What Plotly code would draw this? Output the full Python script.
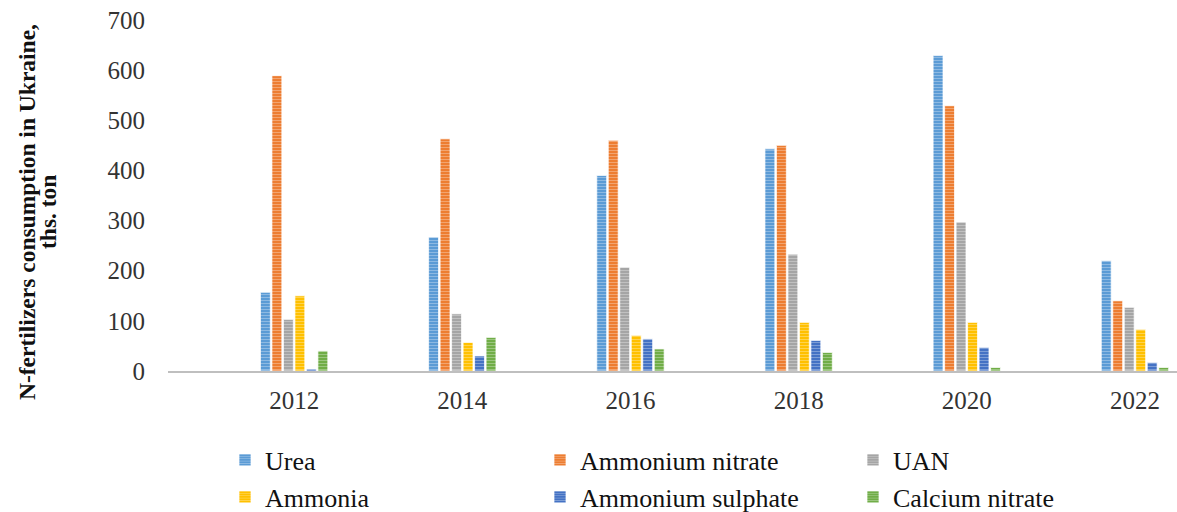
import plotly.graph_objects as go

# ---- data ----
years = [2012, 2014, 2016, 2018, 2020, 2022]
year_labels = ["2012", "2014", "2016", "2018", "2020", "2022"]
urea = [157, 267, 390, 443, 629, 220]
ammonium_nitrate = [589, 463, 460, 450, 529, 140]
uan = [103, 114, 207, 233, 297, 127]
ammonia = [150, 57, 71, 97, 97, 83]
ammonium_sulphate = [4, 30, 64, 61, 47, 17]
calcium_nitrate = [40, 67, 44, 37, 7, 7]
y_ticks = [0, 100, 200, 300, 400, 500, 600, 700]

series_names = ["Urea", "Ammonium nitrate", "UAN",
                "Ammonia", "Ammonium sulphate", "Calcium nitrate"]
series_values = [urea, ammonium_nitrate, uan,
                 ammonia, ammonium_sulphate, calcium_nitrate]
series_colors = ["#5B9BD5", "#ED7D31", "#A5A5A5",
                 "#FFC000", "#4472C4", "#70AD47"]

FONT = "Liberation Serif"

L, R, T, B = 168, 0, 20, 141
W, H = 1177, 512
pw = W - L - R
ph = H - T - B


def px_x(x):
    return (x - L) / pw


def px_y(y):
    return (H - B - y) / ph


# legend slot positions (pixels): 3 columns x 2 rows
legend_cols_px = [225, 540, 853]
legend_rows_px = [460, 497]

fig = go.Figure()
layout_legends = {}
for i, (name, vals, color) in enumerate(zip(series_names, series_values, series_colors)):
    leg_id = "legend" if i == 0 else f"legend{i + 1}"
    fig.add_trace(go.Bar(
        x=years, y=vals, name=name, legend=leg_id,
        marker=dict(
            color=color,
            line=dict(color="rgba(255,255,255,0.9)", width=0.8),
            pattern=dict(shape="-", fillmode="overlay", fgcolor="white",
                         bgcolor=color, fgopacity=0.3, size=3, solidity=0.35),
        ),
    ))
    col, row = i % 3, i // 3
    layout_legends[leg_id] = dict(
        orientation="h",
        x=px_x(legend_cols_px[col]), xanchor="left",
        y=px_y(legend_rows_px[row]), yanchor="middle",
        font=dict(family=FONT, size=26, color="#111111"),
        bgcolor="rgba(0,0,0,0)",
    )

fig.update_layout(
    width=W, height=H,
    margin=dict(l=L, r=R, t=T, b=B, autoexpand=False),
    paper_bgcolor="white", plot_bgcolor="white",
    barmode="group", bargap=0.59, bargroupgap=0.14,
    font=dict(family=FONT, size=25, color="#222222"),
    xaxis=dict(
        range=[2010.5, 2022.5], tickvals=years, ticktext=year_labels,
        showline=True, linecolor="#BFBFBF", linewidth=2,
        showgrid=False, zeroline=False, ticks="",
        tickfont=dict(family=FONT, size=25, color="#333333"),
        ticklabelstandoff=6,
    ),
    yaxis=dict(
        range=[0, 700], tickvals=y_ticks,
        showline=False, showgrid=False, zeroline=False, ticks="",
        tickfont=dict(family=FONT, size=25, color="#333333"),
        ticklabelstandoff=22,
    ),
    showlegend=True,
    **layout_legends,
)

fig.add_annotation(
    text="<b>N-fertilizers consumption in Ukraine,</b>", textangle=-90,
    xref="paper", yref="paper", x=px_x(27), y=px_y(212),
    xanchor="center", yanchor="middle", showarrow=False,
    font=dict(family=FONT, size=23.5, color="#111111"),
)
fig.add_annotation(
    text="<b>ths. ton</b>", textangle=-90,
    xref="paper", yref="paper", x=px_x(48), y=px_y(212),
    xanchor="center", yanchor="middle", showarrow=False,
    font=dict(family=FONT, size=23.5, color="#111111"),
)

fig.write_html(
    "out.html",
    config={"displayModeBar": False},
    post_script="document.body.style.margin='0px';document.body.style.overflow='hidden';",
)
